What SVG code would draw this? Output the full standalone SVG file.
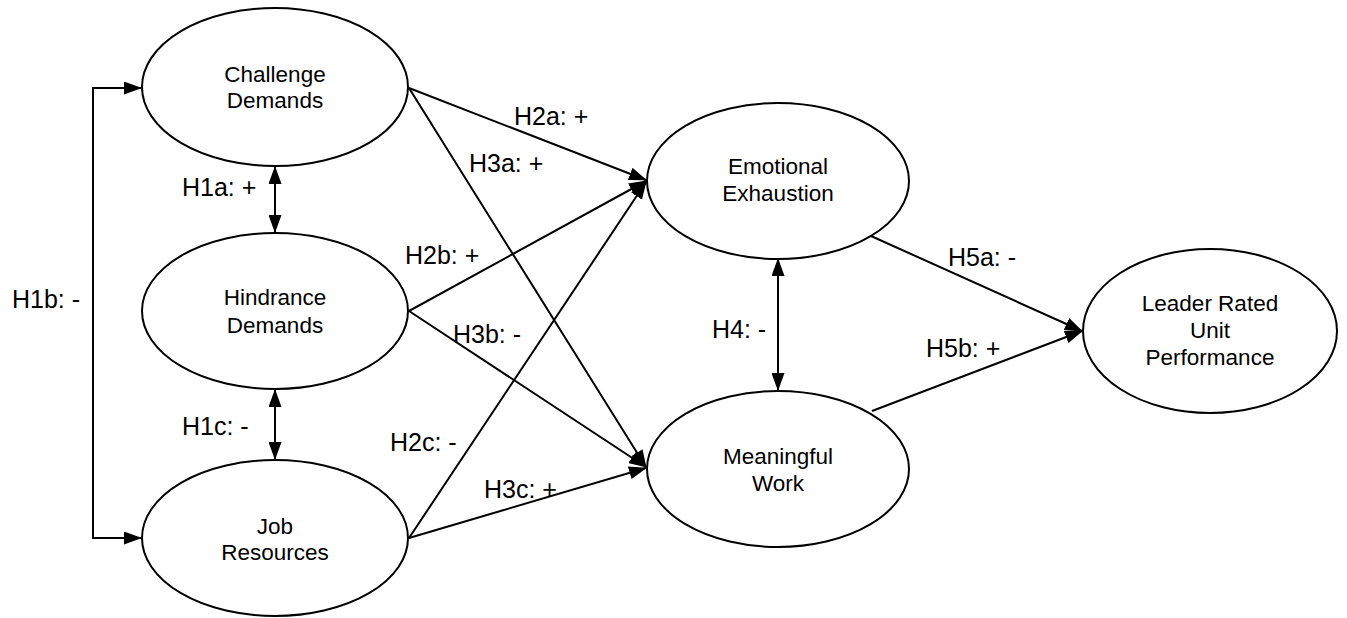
<svg xmlns="http://www.w3.org/2000/svg" width="1347" height="618" viewBox="0 0 1347 618">
<style>
.node ellipse{fill:#fff;stroke:#000;stroke-width:2}
.node text{font-family:"Liberation Sans",Arial,sans-serif;font-size:22.5px;fill:#000;text-anchor:middle}
.edge{fill:none;stroke:#000;stroke-width:2}
.lbl{font-family:"Liberation Sans",Arial,sans-serif;font-size:25px;fill:#000}
</style>
<defs>
<marker id="ah" markerUnits="userSpaceOnUse" markerWidth="18" markerHeight="13" refX="17" refY="6.5" orient="auto-start-reverse" viewBox="0 0 18 13">
<path d="M0,0 L18,6.5 L0,13 z" fill="#000"/>
</marker>
</defs>
<rect width="1347" height="618" fill="#fff"/>
<g id="connectors">
<path id="H1b" class="edge" d="M141,88 L93,88 L93,538 L141,538" marker-start="url(#ah)" marker-end="url(#ah)"/>
<path id="H1a" class="edge" d="M275,167 L275,232" marker-start="url(#ah)" marker-end="url(#ah)"/>
<path id="H1c" class="edge" d="M275,390 L275,459" marker-start="url(#ah)" marker-end="url(#ah)"/>
<path id="H2a" class="edge" d="M409,88 L646,180" marker-end="url(#ah)"/>
<path id="H3a" class="edge" d="M409,88 L646,467" marker-end="url(#ah)"/>
<path id="H2b" class="edge" d="M409,311 L646,181" marker-end="url(#ah)"/>
<path id="H3b" class="edge" d="M409,311 L646,467" marker-end="url(#ah)"/>
<path id="H2c" class="edge" d="M409,538 L646,182" marker-end="url(#ah)"/>
<path id="H3c" class="edge" d="M409,538 L646,468" marker-end="url(#ah)"/>
<path id="H4" class="edge" d="M778,259 L778,390" marker-start="url(#ah)" marker-end="url(#ah)"/>
<path id="H5a" class="edge" d="M871,236 L1082,331" marker-end="url(#ah)"/>
<path id="H5b" class="edge" d="M872,411 L1082,331" marker-end="url(#ah)"/>
<text class="lbl" x="514" y="125">H2a: +</text>
<text class="lbl" x="469" y="172">H3a: +</text>
<text class="lbl" x="182" y="196">H1a: +</text>
<text class="lbl" x="405" y="264">H2b: +</text>
<text class="lbl" x="948" y="266">H5a: -</text>
<text class="lbl" x="12" y="308">H1b: -</text>
<text class="lbl" x="453" y="343">H3b: -</text>
<text class="lbl" x="712" y="338">H4: -</text>
<text class="lbl" x="926" y="357">H5b: +</text>
<text class="lbl" x="182" y="435">H1c: -</text>
<text class="lbl" x="390" y="451">H2c: -</text>
<text class="lbl" x="484" y="498">H3c: +</text>
</g>
<g id="challenge" class="node">
<ellipse cx="275" cy="87" rx="133" ry="79"/>
<text x="275" y="82">Challenge</text>
<text x="275" y="108">Demands</text>
</g>
<g id="hindrance" class="node">
<ellipse cx="275" cy="311" rx="133" ry="78"/>
<text x="275" y="305">Hindrance</text>
<text x="275" y="333">Demands</text>
</g>
<g id="resources" class="node">
<ellipse cx="275" cy="538" rx="133" ry="78"/>
<text x="275" y="534">Job</text>
<text x="275" y="560">Resources</text>
</g>
<g id="exhaustion" class="node">
<ellipse cx="778" cy="181" rx="131" ry="78"/>
<text x="778" y="174">Emotional</text>
<text x="778" y="201">Exhaustion</text>
</g>
<g id="meaningful" class="node">
<ellipse cx="778" cy="469" rx="131" ry="78"/>
<text x="778" y="464">Meaningful</text>
<text x="778" y="491">Work</text>
</g>
<g id="performance" class="node">
<ellipse cx="1210" cy="331" rx="127" ry="82"/>
<text x="1210" y="311">Leader Rated</text>
<text x="1210" y="338">Unit</text>
<text x="1210" y="365">Performance</text>
</g>
</svg>
